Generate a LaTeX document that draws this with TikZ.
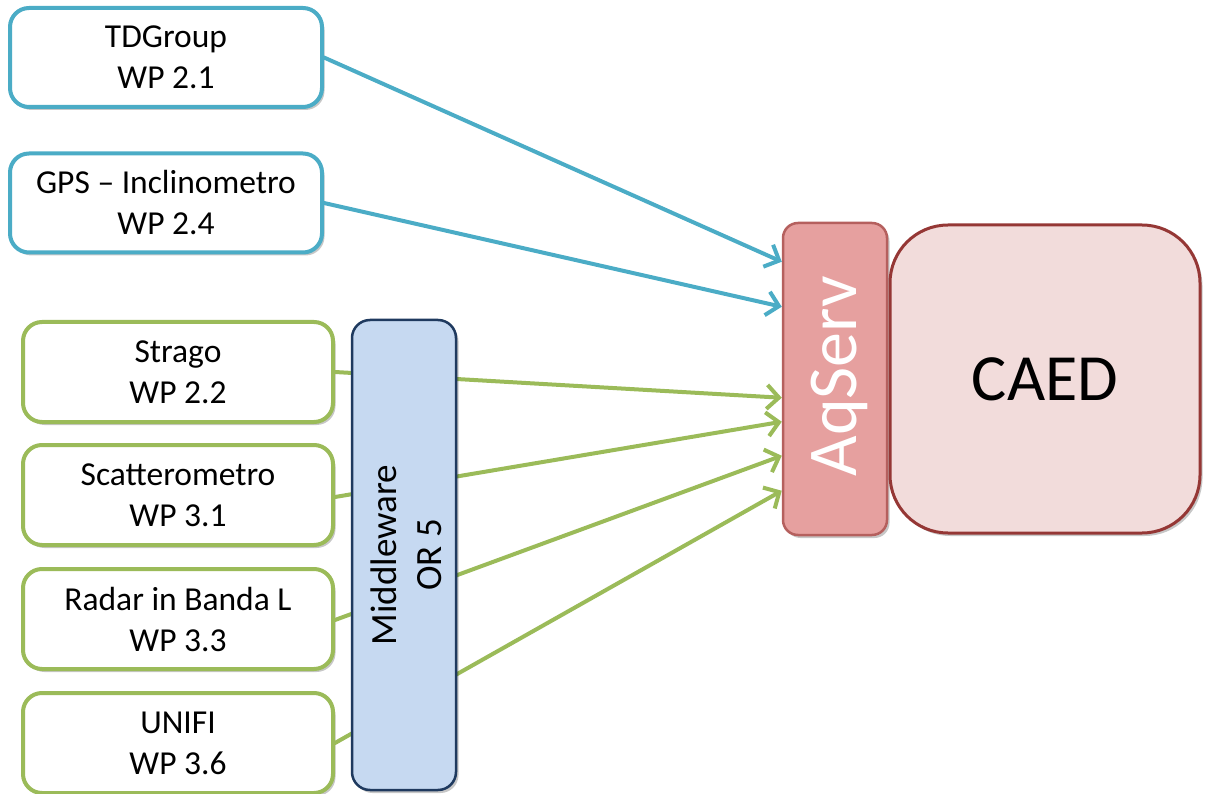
\documentclass[tikz,border=0pt]{standalone}
\usepackage{fontspec}
\setmainfont{Carlito}
\usetikzlibrary{arrows.meta,shadows,calc}

\definecolor{aqua}{HTML}{4BACC6}
\definecolor{leaf}{HTML}{9BBB59}
\definecolor{mwfill}{HTML}{C6D9F1}
\definecolor{mwline}{HTML}{1F3A5F}
\definecolor{aqfill}{HTML}{E6A09F}
\definecolor{aqline}{HTML}{B5605E}
\definecolor{caedfill}{HTML}{F2DCDB}
\definecolor{caedline}{HTML}{953735}

\begin{document}
\begin{tikzpicture}[x=1pt,y=-1pt,
  softshadow/.style={drop shadow={shadow xshift=2.5pt,shadow yshift=-3pt,opacity=0.22,fill=black}},
  srcbox/.style={draw, rounded corners=19pt, line width=4pt, fill=white,
    align=center, inner sep=0pt, font=\fontsize{33.5}{41}\selectfont, softshadow},
  bluebox/.style={srcbox, draw=aqua, minimum width=312pt, minimum height=99pt},
  greenbox/.style={srcbox, draw=leaf, minimum width=310pt, minimum height=100pt},
  feed/.style={line width=4pt, line cap=round, -{Straight Barb[length=12pt,width=24pt]}},
  link/.style={feed, draw=aqua},
  glink/.style={feed, draw=leaf},
  uplabel/.style={rotate=90, align=center, inner sep=0pt}
]
\useasboundingbox (0,0) rectangle (1205,794);

% sources
\node[bluebox] (td)  at (166,57.5) {TDGroup\\WP 2.1};
\node[bluebox] (gps) at (166,203)  {GPS -- Inclinometro\\WP 2.4};
\node[greenbox] (str) at (178,372) {Strago\\WP 2.2};
\node[greenbox] (sca) at (178,495) {Scatterometro\\WP 3.1};
\node[greenbox] (rad) at (178,619) {Radar in Banda L\\WP 3.3};
\node[greenbox] (uni) at (178,743) {UNIFI\\WP 3.6};

% acquisition server and archive
\node[draw=aqline, line width=2.5pt, rounded corners=15pt, fill=aqfill,
      minimum width=104pt, minimum height=312pt, inner sep=0pt, softshadow] (aq) at (835,379) {};
\node[uplabel, text=white, font=\fontsize{70}{80}\selectfont] (aqt) at ($(aq.center)+(4,-3)$) {AqServ};
\node[draw=caedline, line width=3pt, rounded corners=58pt, fill=caedfill,
      minimum width=310pt, minimum height=308pt, inner sep=0pt, softshadow,
      font=\fontsize{66}{76}\selectfont] (caed) at (1045,379) {CAED};

% entry points on the server
\coordinate (in1) at ($(aq.north west)+(0,40)$);
\coordinate (in2) at ($(aq.north west)+(0,85)$);
\coordinate (in3) at ($(aq.north west)+(0,176)$);
\coordinate (in4) at ($(aq.north west)+(0,200)$);
\coordinate (in5) at ($(aq.north west)+(0,234)$);
\coordinate (in6) at ($(aq.north west)+(0,269)$);

% connectors
\draw[link] (td.east) -- (in1);
\draw[link] (gps.east) -- (in2);
\draw[glink] (str.east) -- (in3);
\draw[glink] ($(sca.east)+(0,2)$) -- (in4);
\draw[glink] ($(rad.east)+(0,1)$) -- (in5);
\draw[glink] (uni.east) -- (in6);

% middleware layer on top of the green links
\node[draw=mwline, line width=2.5pt, rounded corners=18pt, fill=mwfill,
      minimum width=104pt, minimum height=470pt, inner sep=0pt, softshadow] (mw) at (404,555) {};
\node[uplabel, font=\fontsize{37}{45}\selectfont] (mwt) at ($(mw.center)+(2,0)$) {Middleware\\OR 5};
\end{tikzpicture}
\end{document}
